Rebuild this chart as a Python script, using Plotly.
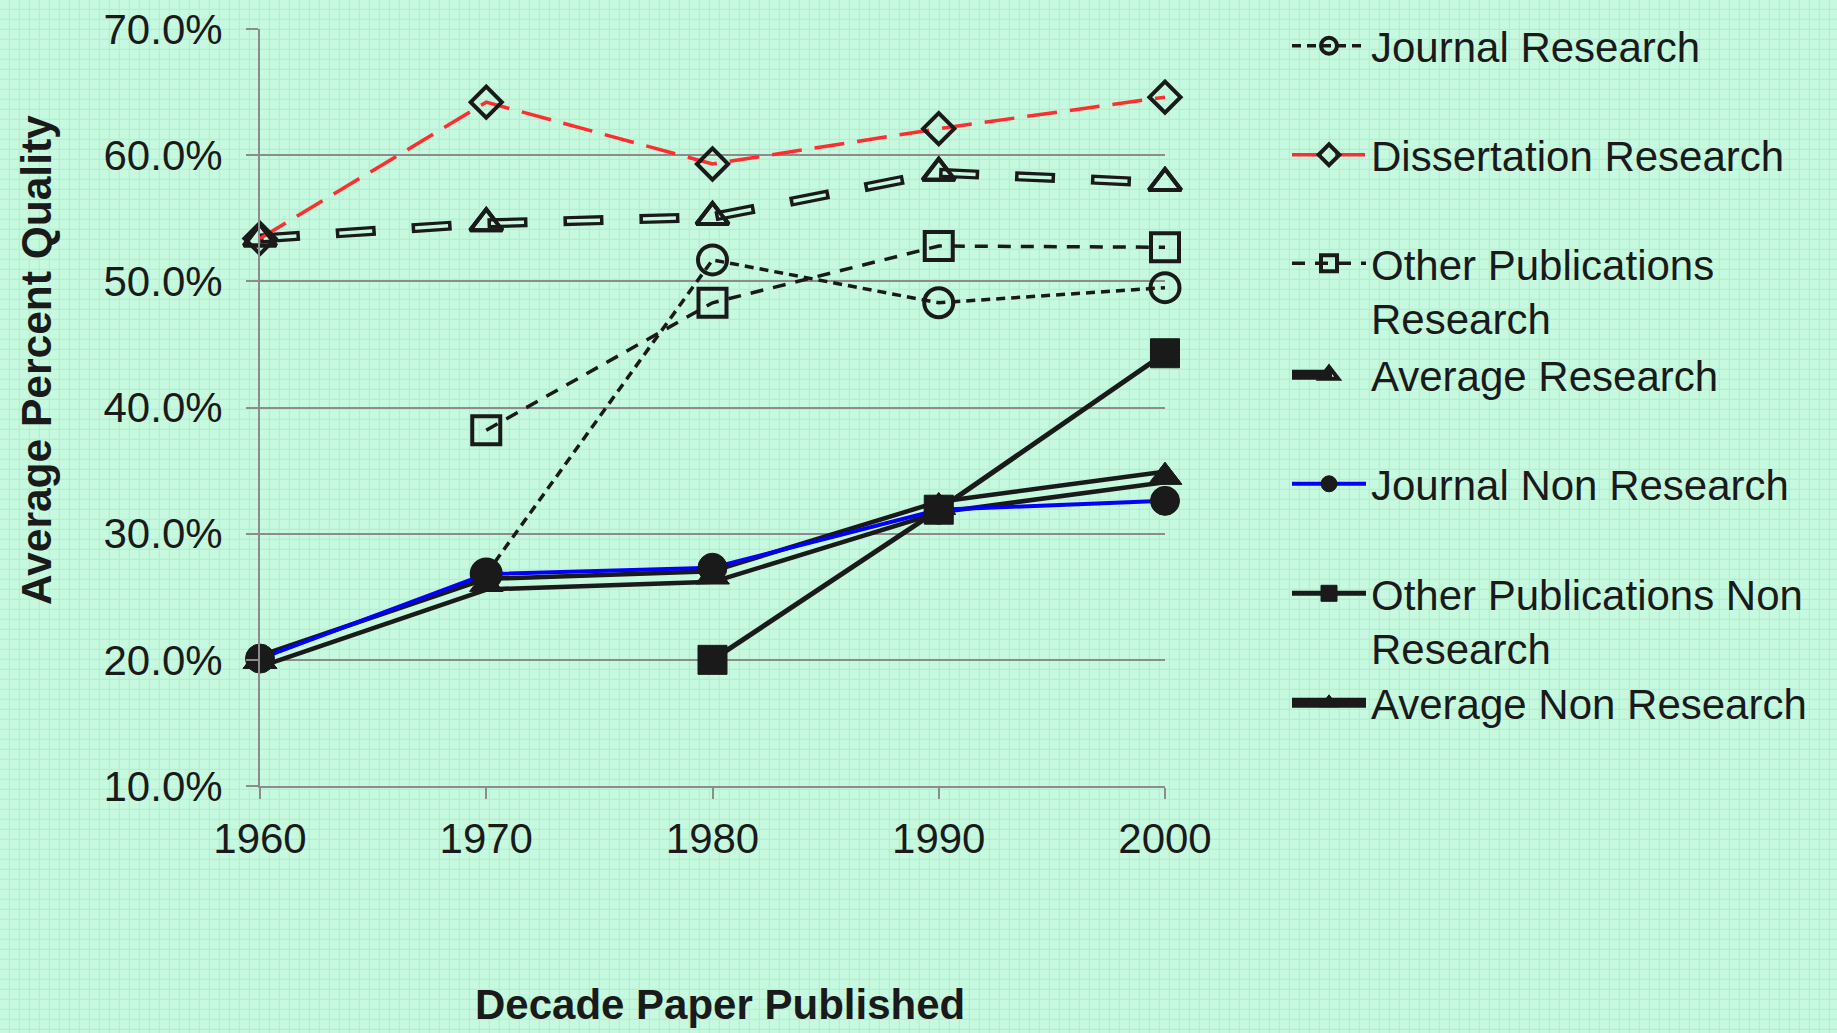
import base64
import plotly.graph_objects as go

# Decade of publication
years = [1960, 1970, 1980, 1990, 2000]

# Average percent quality per series (None = no papers that decade)
journal_research = [None, 26.8, 51.7, 48.3, 49.5]
dissertation_research = [53.4, 64.2, 59.3, 62.1, 64.6]
other_pub_research = [None, 38.2, 48.3, 52.8, 52.7]
average_research = [53.4, 54.6, 55.1, 58.6, 57.8]
journal_non_research = [20.1, 26.8, 27.3, 31.9, 32.6]
other_pub_non_research = [None, None, 20.0, 31.9, 44.3]
average_non_research = [19.9, 26.0, 26.6, 32.1, 34.5]

y_ticks = [10, 20, 30, 40, 50, 60, 70]

FONT = "Liberation Sans, Arial, sans-serif"
INK = "#1a1a1a"
BG = "#c6f9df"
TEX = "#b1f1d0"
GRID = "#8c8c8c"

W, H = 1837, 1033
ML, MR, MT, MB = 260, 672, 29, 247
PW, PH = W - ML - MR, H - MT - MB

fig = go.Figure()


def add(y, name=None, legend=None, color=INK, width=3, dash="solid",
        symbol=None, msize=24, mline=3, mode="lines+markers", show=True):
    marker = dict(symbol=symbol or "circle", size=msize, color=INK,
                  line=dict(color=INK, width=mline))
    fig.add_trace(go.Scatter(
        x=years, y=y, name=name, mode=mode, connectgaps=False,
        line=dict(color=color, width=width, dash=dash),
        marker=marker, cliponaxis=False,
        showlegend=show, legend=legend or "legend",
        hoverinfo="skip"))


# Average Non Research: hollow thick solid line
add(average_non_research, "Average Non Research", "legend7", width=15,
    symbol="triangle-up", msize=29, mline=1)
add(average_non_research, mode="lines", color=BG, width=6, show=False)

# Average Research: hollow thick dashed line
add(average_research, "Average Research", "legend4", width=10,
    dash="40px,36px", symbol="triangle-up-open", msize=28, mline=4)
add(average_research, mode="lines", color=BG, width=3.5,
    dash="0px,3.5px,33px,39.5px", show=False)

add(journal_research, "Journal Research", "legend", width=3.5,
    dash="9px,6px", symbol="circle-open", msize=29, mline=4)
add(dissertation_research, "Dissertation Research", "legend2",
    color="#ff2d2d", width=3.5, dash="30px,13px",
    symbol="diamond-open", msize=24, mline=4)
add(other_pub_research, "Other Publications<br>Research", "legend3",
    width=3.5, dash="13px,10px", symbol="square-open", msize=28, mline=4)

# markers of the hollow-line series drawn over their inner strokes
add(average_non_research, mode="markers", symbol="triangle-up",
    msize=29, mline=1, show=False)
add(average_research, mode="markers", symbol="triangle-up-open",
    msize=28, mline=4, show=False)

add(journal_non_research, "Journal Non Research", "legend5",
    color="#0000ff", width=4, symbol="circle", msize=29, mline=1)
add(other_pub_non_research, "Other Publications Non<br>Research", "legend6",
    width=5, symbol="square", msize=29, mline=1)

# faint mint grid texture behind the whole figure
svg = (
    f'<svg xmlns="http://www.w3.org/2000/svg" width="{W}" height="{H}">'
    '<defs><pattern id="p" width="10" height="10" patternUnits="userSpaceOnUse">'
    f'<rect width="10" height="10" fill="{BG}"/>'
    f'<path d="M9.5 0V10M0 9.5H10" stroke="{TEX}" stroke-width="1.5"/>'
    '</pattern></defs><rect width="100%" height="100%" fill="url(#p)"/></svg>'
)
src = "data:image/svg+xml;base64," + base64.b64encode(svg.encode()).decode()
fig.add_layout_image(dict(
    source=src, xref="paper", yref="paper",
    x=-ML / PW, y=1 + MT / PH, sizex=W / PW, sizey=H / PH,
    xanchor="left", yanchor="top", sizing="stretch", layer="below"))

# legend rows (pixel centre of each entry, measured from the top)
legend_rows = {
    "legend": (46, "middle"),
    "legend2": (155, "middle"),
    "legend3": (291, "top"),
    "legend4": (375, "middle"),
    "legend5": (484, "middle"),
    "legend6": (621, "top"),
    "legend7": (703, "middle"),
}
legend_x = (1287 - ML) / PW
layout_legends = {}
for key, (ypx, valign) in legend_rows.items():
    layout_legends[key] = dict(
        x=legend_x, xanchor="left",
        y=(H - MB - ypx) / PH, yanchor="middle",
        font=dict(family=FONT, size=42, color=INK),
        bgcolor="rgba(0,0,0,0)", borderwidth=0,
        itemwidth=74, valign=valign, itemclick=False,
        itemdoubleclick=False, tracegroupgap=0,
    )

fig.update_layout(
    width=W, height=H,
    margin=dict(l=ML, r=MR, t=MT, b=MB, pad=0, autoexpand=False),
    paper_bgcolor=BG, plot_bgcolor="rgba(0,0,0,0)",
    font=dict(family=FONT, color=INK, size=42),
    xaxis=dict(
        range=[1960, 2000], tickvals=years,
        ticktext=[str(v) for v in years],
        ticks="outside", ticklen=11, tickwidth=2, tickcolor=GRID,
        showline=True, linecolor=GRID, linewidth=2,
        showgrid=False, zeroline=False,
        tickfont=dict(family=FONT, size=42, color=INK),
        ticklabelstandoff=4, fixedrange=True,
    ),
    yaxis=dict(
        range=[10, 70], tickvals=y_ticks,
        ticktext=[f"{v:.1f}%" for v in y_ticks],
        ticks="outside", ticklen=12, tickwidth=2, tickcolor=GRID,
        showline=True, linecolor=GRID, linewidth=2,
        showgrid=True, gridcolor=GRID, gridwidth=2, zeroline=False,
        tickfont=dict(family=FONT, size=42, color=INK),
        ticklabelstandoff=15, fixedrange=True,
    ),
    annotations=[
        dict(text="<b>Average Percent Quality</b>", xref="paper", yref="paper",
             x=(36 - ML) / PW, y=(H - MB - 360) / PH, textangle=-90,
             showarrow=False, xanchor="center", yanchor="middle",
             font=dict(family=FONT, size=42.5, color=INK)),
        dict(text="<b>Decade Paper Published</b>", xref="paper", yref="paper",
             x=(720 - ML) / PW, y=(H - MB - 1004) / PH,
             showarrow=False, xanchor="center", yanchor="middle",
             font=dict(family=FONT, size=42, color=INK)),
    ],
    **layout_legends,
)

fig.write_html("out.html")
